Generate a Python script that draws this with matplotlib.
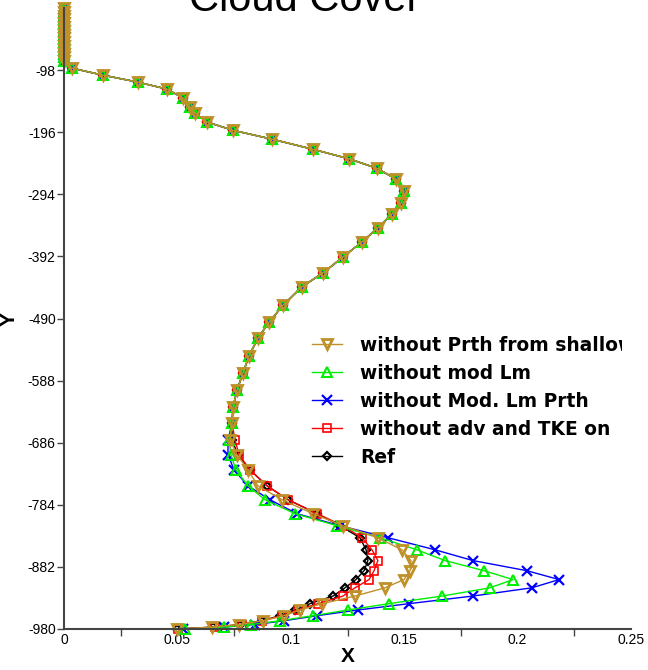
import numpy as np
import matplotlib
matplotlib.use('Agg')
import matplotlib.pyplot as plt
from matplotlib.transforms import Bbox

plt.rcParams['font.family'] = ['Liberation Sans', 'DejaVu Sans']

# shared upper part of the profile (all runs agree above ~ -680)
y_top = [0, -6, -12, -18, -24, -30, -36, -42, -48, -54, -60, -66, -72, -78, -84,
         -95, -106, -117, -128, -142, -156, -166, -180, -193, -207, -223, -238,
         -253, -270, -289, -308, -325, -347, -369, -393, -418, -440, -469, -496,
         -521, -549, -576, -603, -630, -655]
x_top = [0, 0, 0, 0, 0, 0, 0, 0, 0, 0, 0, 0, 0, 0, 0,
         0.0035, 0.0172, 0.0326, 0.0454, 0.0525, 0.0556, 0.0578, 0.0631, 0.0745,
         0.0917, 0.1098, 0.1257, 0.1380, 0.1464, 0.1499, 0.1486, 0.1446, 0.1384,
         0.1314, 0.1230, 0.1142, 0.1049, 0.0966, 0.0904, 0.0855, 0.0816, 0.0789,
         0.0763, 0.0745, 0.0741]

# lower part, where the runs differ
y_low = [-682, -705, -729, -754, -776, -798, -817, -836, -855, -872, -888,
         -902, -915, -928, -940, -950, -959, -967, -973, -977, -980]
x_shallow = [0.0732, 0.0763, 0.0811, 0.0855, 0.0961, 0.1098, 0.1230, 0.1384,
             0.1490, 0.1530, 0.1526, 0.1499, 0.1415, 0.1283, 0.1138, 0.1041,
             0.0970, 0.0877, 0.0772, 0.0653, 0.0498]
x_modlm = [0.0728, 0.0736, 0.0758, 0.0811, 0.0886, 0.1019, 0.1204, 0.1393,
           0.1556, 0.1680, 0.1852, 0.1980, 0.1878, 0.1667, 0.1433, 0.1252,
           0.1098, 0.0952, 0.0825, 0.0705, 0.0534]
x_modlm_prth = [0.0723, 0.0723, 0.0750, 0.0811, 0.0908, 0.1027, 0.1217, 0.1429,
                0.1636, 0.1803, 0.2041, 0.2183, 0.2063, 0.1803, 0.1521, 0.1296,
                0.1116, 0.0970, 0.0842, 0.0705, 0.0525]
x_adv_tke = [0.0754, 0.0772, 0.0820, 0.0895, 0.0988, 0.1116, 0.1230, 0.1314,
             0.1358, 0.1384, 0.1367, 0.1345, 0.1283, 0.1230, 0.1120, 0.1032,
             0.0961, 0.0873, 0.0785, 0.0666, 0.0503]
x_ref = [0.0741, 0.0767, 0.0820, 0.0895, 0.0988, 0.1116, 0.1217, 0.1305,
         0.1332, 0.1340, 0.1323, 0.1287, 0.1239, 0.1186, 0.1085, 0.1019,
         0.0952, 0.0873, 0.0776, 0.0657, 0.0498]

labels = ['without Prth from shallow', 'without mod Lm', 'without Mod. Lm Prth',
          'without adv and TKE on', 'Ref']
yticks = [-98, -196, -294, -392, -490, -588, -686, -784, -882, -980]
xticks = [0, 0.05, 0.1, 0.15, 0.2, 0.25]

# (x, colour, marker, size, edge width) - drawn bottom to top
series = [
    (x_ref, 'k', 'D', 4.5, 1.6),
    (x_adv_tke, '#ff0000', 's', 6, 1.2),
    (x_modlm_prth, '#0000ff', 'x', 6.5, 1.6),
    (x_modlm, '#00ee00', '^', 6.5, 1.5),
    (x_shallow, '#bf9128', 'v', 7, 2.0),
]

fig = plt.figure(figsize=(6.48, 6.70), dpi=100)
ax = fig.add_axes([64 / 648, 41 / 670, 567 / 648, 621 / 670])

y_all = np.array(y_top + y_low)
handles = []
for xs, c, m, ms, mew in series:
    x_all = np.array(x_top + xs)
    h, = ax.plot(x_all, y_all, color=c, lw=1.0, marker=m, ms=ms, mfc='none',
                 mec=c, mew=mew, clip_on=False)
    handles.append(h)
handles = handles[::-1]

ax.set_xlim(0, 0.25)
ax.set_ylim(-980, 0)
ax.set_xticks(xticks)
ax.set_xticklabels(['0', '0.05', '0.1', '0.15', '0.2', '0.25'])
ax.set_xticks(np.arange(0.025, 0.25, 0.05), minor=True)
ax.set_yticks(yticks)
ax.set_yticklabels([str(v) for v in yticks])
ax.tick_params(axis='both', which='both', direction='out', length=5, width=1,
               color='#444444', labelsize=10, pad=1)
ax.tick_params(axis='x', which='major', length=0, pad=3)

for s in ['top', 'right']:
    ax.spines[s].set_visible(False)
for s in ['left', 'bottom']:
    ax.spines[s].set_color('#444444')
    ax.spines[s].set_linewidth(1.5)

ax.set_xlabel('X', fontsize=15, fontweight='bold', labelpad=0)
ax.set_ylabel('Y', fontsize=15, fontweight='bold')
ax.yaxis.set_label_coords(-0.08, 0.5)

fig.text(0.47, 1.0, 'Cloud Cover', fontsize=30, ha='center', va='center')

leg = ax.legend(handles, labels, loc='upper left', bbox_to_anchor=(312 / 648, 1 - 336 / 670),
                bbox_transform=fig.transFigure, frameon=False,
                prop={'family': 'DejaVu Sans', 'weight': 'bold', 'size': 13.4},
                handlelength=1.62, handletextpad=0.95, labelspacing=0.48,
                borderpad=0, borderaxespad=0)
clip = Bbox.from_extents(0, 0, 622, 670)
for t in leg.get_texts():
    t.set_clip_box(clip)
    t.set_clip_on(True)

fig.savefig('out.png', dpi=100)
